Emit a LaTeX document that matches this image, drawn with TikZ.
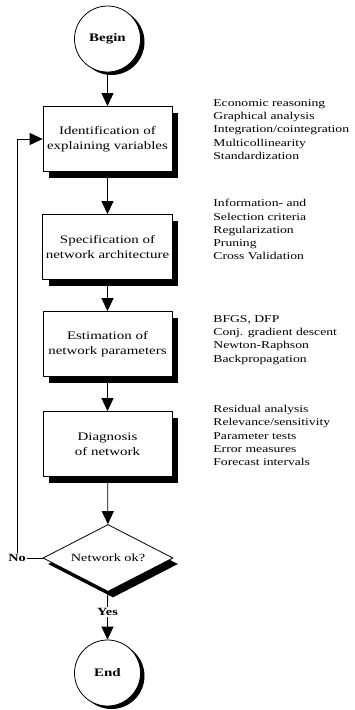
\documentclass[tikz,border=0pt]{standalone}
\usepackage{fontspec}
\setmainfont{Liberation Serif}[FakeStretch=1.3]
\usetikzlibrary{positioning, shapes.geometric, arrows.meta, shadows}

\begin{document}
\begin{tikzpicture}[x=1pt, y=-1pt, line width=0.8pt,
  font=\fontsize{11.5}{15}\selectfont,
  box/.style={rectangle, draw, fill=white, minimum width=129pt, minimum height=65pt, align=center,
    drop shadow={shadow xshift=6pt, shadow yshift=-6pt, fill=black, opacity=1}},
  term/.style={circle, draw, fill=white, minimum size=66pt, inner sep=0pt, font=\fontsize{11.5}{14}\selectfont\bfseries,
    drop shadow={shadow xshift=4pt, shadow yshift=-3pt, fill=black, opacity=1}},
  test/.style={diamond, draw, fill=white, minimum width=130pt, minimum height=67pt, inner sep=0pt, aspect=2,
    font=\fontsize{11}{14}\selectfont,
    drop shadow={shadow xshift=5pt, shadow yshift=-6pt, fill=black, opacity=1}},
  tools/.style={anchor=north west, align=left, inner sep=0pt, font=\fontsize{10.5}{13.3}\selectfont},
  flow/.style={-{Triangle[length=13pt, width=12pt]}}]
  \useasboundingbox (0,0) rectangle (354,710);

  \node[term] (begin) at (107.5,39) {Begin};
  \node[box] (ident) at (107.5,139) {Identification of\\explaining variables};
  \node[box] (spec) at (107.5,247) {Specification of\\network architecture};
  \node[box] (estim) at (107.5,344) {Estimation of\\network parameters};
  \node[box] (diag) at (107.5,444) {Diagnosis\\of network};
  \node[test] (ok) at (108,558) {Network ok?};
  \node[fill=white, inner sep=1pt, font=\fontsize{11}{14}\selectfont\bfseries] (yes) at (107.5,612) {Yes};
  \node[term] (stop) at (107.5,673) {End};
  \node[inner sep=1pt, font=\fontsize{11}{14}\selectfont\bfseries] (no) at (17,558) {No};

  % methods beside each step
  \node[tools] (m1) at (213,99) {Economic reasoning\\Graphical analysis\\Integration/cointegration\\Multicollinearity\\Standardization};
  \node[tools] (m2) at (213,199) {Information- and\\Selection criteria\\Regularization\\Pruning\\Cross Validation};
  \node[tools] (m3) at (213,315) {BFGS, DFP\\Conj. gradient descent\\Newton-Raphson\\Backpropagation};
  \node[tools] (m4) at (213,405) {Residual analysis\\Relevance/sensitivity\\Parameter tests\\Error measures\\Forecast intervals};

  \draw[flow] (begin) -- (ident);
  \draw[flow] (ident) -- (spec);
  \draw[flow] (spec) -- (estim);
  \draw[flow] (estim) -- (diag);
  \draw[flow] (diag) -- (ok);
  \draw (ok) -- (yes);
  \draw[flow] (yes) -- (stop);
  \draw (ok) -- (no);
  \draw[flow] (no) |- (ident);
\end{tikzpicture}
\end{document}
